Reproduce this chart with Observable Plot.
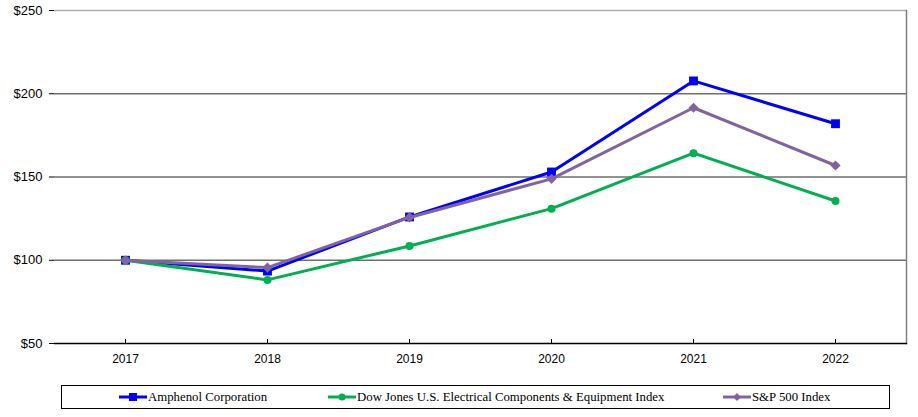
<!DOCTYPE html>
<html>
<head>
<meta charset="utf-8">
<script src="https://cdn.jsdelivr.net/npm/d3@7"></script>
<script src="https://cdn.jsdelivr.net/npm/@observablehq/plot@0.6"></script>
<style>
  html, body { margin: 0; padding: 0; background: #fff; }
  #wrap { position: relative; width: 918px; height: 417px; }
  #legend { position: absolute; left: 61px; top: 385px; width: 827px; height: 22px; border: 1px solid #000; font-family: "Liberation Serif", "Times New Roman", serif; font-size: 12.8px; color: #000; }
  .item { position: absolute; top: 0; height: 22px; display: flex; align-items: center; white-space: nowrap; }
  .item svg { margin-right: 0px; }
</style>
</head>
<body>
<div id="wrap"><div id="chart"></div><div id="legend"></div></div>
<script>
const years = ["2017", "2018", "2019", "2020", "2021", "2022"];
const seriesNames = ["Amphenol Corporation", "Dow Jones U.S. Electrical Components & Equipment Index", "S&P 500 Index"];
const amphenol = [100, 93.5, 126, 153, 207.7, 182];
const dowJones = [100, 88.2, 108.6, 131, 164.3, 135.6];
const sp500 = [100, 95.6, 125.7, 148.9, 191.6, 156.9];
const yTicks = [50, 100, 150, 200, 250];
const colors = ["#0000ff", "#00b050", "#8064a2"];
const symbols = ["square", "circle", "diamond2"];
const radii = [5, 4, 4.6];

const allValues = [amphenol, dowJones, sp500];
const table = [];
seriesNames.forEach((s, i) => years.forEach((y, j) => table.push({series: s, year: y, value: allValues[i][j], idx: i})));

const chart = Plot.plot({
  width: 918,
  height: 372,
  marginTop: 10,
  marginBottom: 29,
  marginLeft: 54,
  marginRight: 12,
  style: {fontFamily: "'Liberation Sans', Arial, sans-serif", fontSize: "12px", color: "#000", background: "#fff"},
  x: {type: "point", domain: years, padding: 0.5, label: null},
  y: {domain: [50, 250], label: null},
  marks: [
    Plot.ruleY([100, 150, 200], {stroke: "#6e6e6e", strokeWidth: 1.3, strokeOpacity: 1}),
    Plot.ruleY([250], {stroke: "#b0b0b0", strokeWidth: 1.5, strokeOpacity: 1}),
    Plot.frame({anchor: "right", stroke: "#808080", strokeWidth: 1.5}),
    Plot.axisY({ticks: yTicks, tickFormat: d => "$" + d, tickSize: 5, tickPadding: 7, stroke: "#000", fontSize: 13, label: null}),
    Plot.ruleX([0], {frameAnchor: "left", stroke: "#000", strokeWidth: 1.3}),
    Plot.frame({anchor: "bottom", stroke: "#000", strokeWidth: 1.3}),
    Plot.tickX(years, {x: d => d, insetTop: 329, stroke: "#000", strokeWidth: 1}),
    Plot.axisX({tickSize: 0, tickPadding: 11, fontSize: 12, label: null}),
    ...[0, 1, 2].map(i => [
      Plot.line(table.filter(d => d.idx === i), {x: "year", y: "value", stroke: colors[i], strokeWidth: 3}),
      Plot.dot(table.filter(d => d.idx === i), {x: "year", y: "value", fill: colors[i], stroke: "none", symbol: symbols[i], r: radii[i]})
    ]).flat()
  ]
});
document.getElementById("chart").appendChild(chart);

// Legend
const legend = document.getElementById("legend");
const lefts = [56, 265, 660];
seriesNames.forEach((s, i) => {
  const item = document.createElement("div");
  item.className = "item";
  item.style.left = lefts[i] + "px";
  const sym = d3.symbol().type([d3.symbolSquare, d3.symbolCircle, d3.symbolDiamond2][i]).size(i === 0 ? 64 : 40)();
  item.innerHTML = `<svg width="30" height="12"><line x1="1" x2="29" y1="6" y2="6" stroke="${colors[i]}" stroke-width="3"/><path d="${sym}" transform="translate(15,6)" fill="${colors[i]}"/></svg><span>${s.replace(/&/g, "&amp;")}</span>`;
  legend.appendChild(item);
});
</script>
</body>
</html>
